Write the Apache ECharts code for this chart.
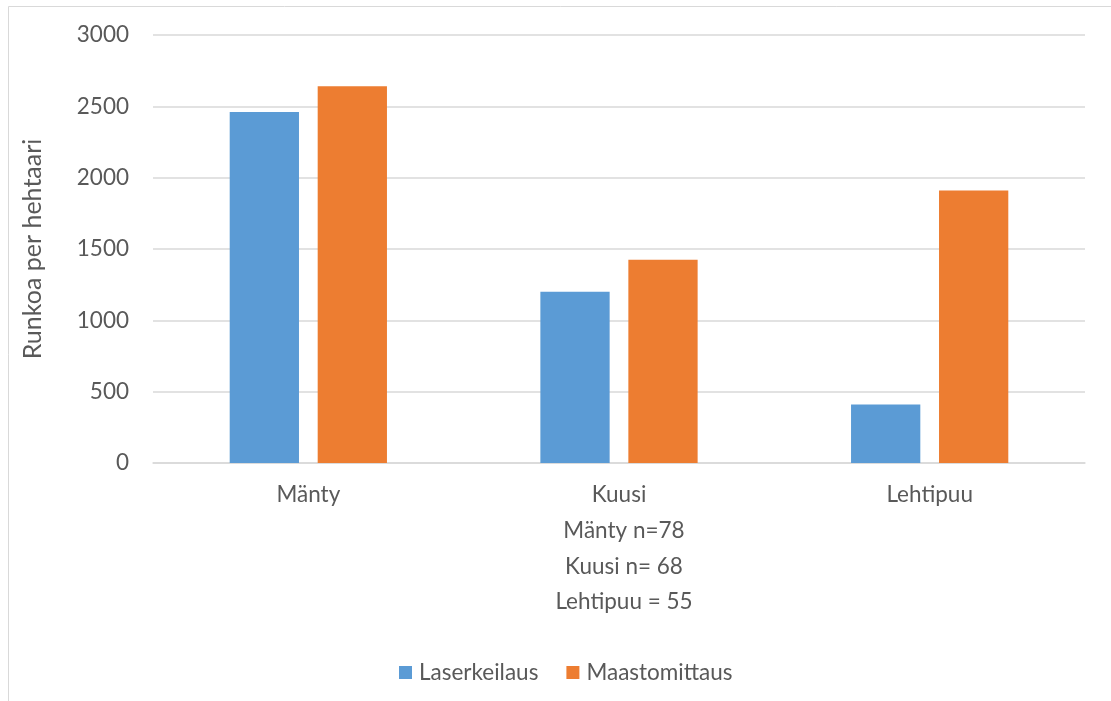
<!DOCTYPE html>
<html>
<head>
<meta charset="utf-8">
<script src="https://cdn.jsdelivr.net/npm/echarts@6/dist/echarts.min.js"></script>
<style>
  html, body { margin: 0; padding: 0; background: #ffffff; }
  #chart { width: 1111px; height: 701px; }
</style>
</head>
<body>
<div id="chart"></div>
<script>
// Tree species and stems-per-hectare estimates
const categories = ['Mänty', 'Kuusi', 'Lehtipuu'];
const laserValues = [2460, 1200, 410];
const fieldValues = [2640, 1425, 1910];
const seriesNames = ['Laserkeilaus', 'Maastomittaus'];
const sampleNote = ['Mänty n=78', 'Kuusi n= 68', 'Lehtipuu = 55'];

const FONT = 'Lato, "Open Sans", sans-serif';
const TEXT = '#595959';
const FS = 22.5;

const chart = echarts.init(document.getElementById('chart'), null, { renderer: 'canvas' });

chart.setOption({
  animation: false,
  backgroundColor: '#ffffff',
  textStyle: { fontFamily: FONT, color: TEXT },
  title: {
    text: sampleNote.join('\n'),
    left: 619,
    top: 508,
    textAlign: 'center',
    textStyle: { fontFamily: FONT, fontSize: FS, fontWeight: 'normal', color: TEXT, lineHeight: 35.5 }
  },
  legend: {
    data: seriesNames,
    left: 394,
    top: 656,
    itemWidth: 13,
    itemHeight: 13,
    itemGap: 28,
    icon: 'rect',
    textStyle: { fontFamily: FONT, fontSize: FS, color: TEXT, padding: [0, 0, 0, 2] }
  },
  grid: { left: 153, right: 26, top: 35, bottom: 238, containLabel: false },
  xAxis: {
    type: 'category',
    data: categories,
    axisLine: { show: true, lineStyle: { color: '#D9D9D9', width: 1.5 } },
    axisTick: { show: false },
    axisLabel: { fontFamily: FONT, fontSize: FS, color: TEXT, margin: 20 }
  },
  yAxis: {
    type: 'value',
    min: 0,
    max: 3000,
    interval: 500,
    name: 'Runkoa per hehtaari',
    nameLocation: 'middle',
    nameGap: 108,
    nameTextStyle: { fontFamily: FONT, fontSize: 25, color: TEXT },
    axisLine: { show: false },
    axisTick: { show: false },
    axisLabel: {
      fontFamily: FONT, fontSize: FS, color: TEXT, margin: 24,
      formatter: (v) => String(v)
    },
    splitLine: { lineStyle: { color: '#D9D9D9', width: 1.5 } }
  },
  series: [
    {
      name: seriesNames[0],
      type: 'bar',
      data: laserValues,
      barWidth: '22.3%',
      barGap: '27%',
      itemStyle: { color: '#5B9BD5' }
    },
    {
      name: seriesNames[1],
      type: 'bar',
      data: fieldValues,
      barWidth: '22.3%',
      barGap: '27%',
      itemStyle: { color: '#ED7D31' }
    }
  ],
  graphic: [
    {
      // chart frame
      type: 'rect',
      shape: { x: 8.5, y: 6.5, width: 1200, height: 800 },
      style: { fill: 'none', stroke: '#D9D9D9', lineWidth: 1 },
      silent: true
    }
  ]
});
</script>
</body>
</html>
